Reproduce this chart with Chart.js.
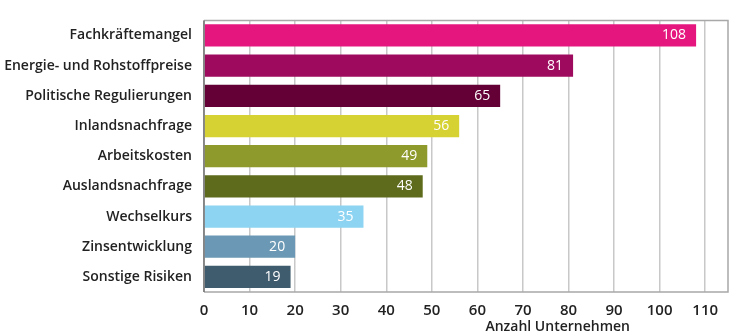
<!DOCTYPE html>
<html lang="de">
<head>
  <meta charset="UTF-8" />
  <title>Risiken</title>
  <script src="https://cdn.jsdelivr.net/npm/chart.js"></script>
  <style>
    html, body { margin: 0; padding: 0; background: #fff; }
    #wrap { width: 734px; height: 336px; }
  </style>
</head>
<body>
  <div id="wrap"><canvas id="chart"></canvas></div>

  <script>
    // data
    const categories = [
      "Fachkräftemangel", "Energie- und Rohstoffpreise", "Politische Regulierungen",
      "Inlandsnachfrage", "Arbeitskosten", "Auslandsnachfrage",
      "Wechselkurs", "Zinsentwicklung", "Sonstige Risiken"
    ];
    const values = [108, 81, 65, 56, 49, 48, 35, 20, 19];
    const barColors = [
      "#e5177f", "#9e0a5e", "#640036",
      "#d6d233", "#8e9a2b", "#5e6b1c",
      "#8dd4f2", "#6b98b4", "#3f5b6e"
    ];
    const xTitle = "Anzahl Unternehmen";

    const FONT = "'Open Sans', sans-serif";

    // white value labels inside the bar ends + plot frame + axis title
    const extras = {
      id: 'extras',
      afterDatasetsDraw(chart) {
        const ctx = chart.ctx;
        const meta = chart.getDatasetMeta(0);
        ctx.save();
        ctx.font = "500 14px " + FONT;
        ctx.fillStyle = "#ffffff";
        ctx.textAlign = "right";
        ctx.textBaseline = "middle";
        meta.data.forEach((bar, i) => {
          ctx.fillText(String(values[i]), bar.x - 10, bar.y);
        });
        ctx.restore();
      },
      afterDraw(chart) {
        const { ctx, chartArea: a } = chart;
        ctx.save();
        ctx.strokeStyle = "#a8a8a8";
        ctx.lineWidth = 1.5;
        ctx.beginPath();
        ctx.moveTo(a.left, a.top);
        ctx.lineTo(a.right, a.top);
        ctx.lineTo(a.right, a.bottom);
        ctx.lineTo(a.left, a.bottom);
        ctx.stroke();
        ctx.strokeStyle = "#6f6f6f";
        ctx.beginPath();
        ctx.moveTo(a.left, a.top);
        ctx.lineTo(a.left, a.bottom);
        ctx.stroke();
        ctx.font = "600 14px " + FONT;
        ctx.fillStyle = "#222";
        ctx.textAlign = "center";
        ctx.textBaseline = "middle";
        ctx.fillText(xTitle, a.left + (a.right - a.left) * 0.675, 327);
        ctx.restore();
      }
    };

    new Chart(document.getElementById("chart"), {
      type: 'bar',
      data: {
        labels: categories,
        datasets: [{
          data: values,
          backgroundColor: barColors,
          barPercentage: 0.9,
          categoryPercentage: 0.82
        }]
      },
      options: {
        indexAxis: 'y',
        responsive: true,
        maintainAspectRatio: false,
        animation: false,
        layout: { padding: { top: 12, right: 6, left: 0, bottom: 0 } },
        plugins: {
          legend: { display: false },
          tooltip: { enabled: false }
        },
        scales: {
          x: {
            min: 0,
            max: 115,
            afterFit: s => { s.height = 44; },
            ticks: {
              stepSize: 10,
              includeBounds: false,
              padding: 10,
              color: "#222",
              font: { family: FONT, size: 15, weight: '600' }
            },
            grid: { color: "#c8c8c8", lineWidth: 1.5, drawTicks: false },
            border: { display: false }
          },
          y: {
            afterFit: s => { s.width = 204; },
            ticks: {
              padding: 12,
              color: "#222",
              font: { family: FONT, size: 14, weight: '600' }
            },
            grid: { display: false, drawTicks: false },
            border: { display: false }
          }
        }
      },
      plugins: [extras]
    });
  </script>
</body>
</html>
